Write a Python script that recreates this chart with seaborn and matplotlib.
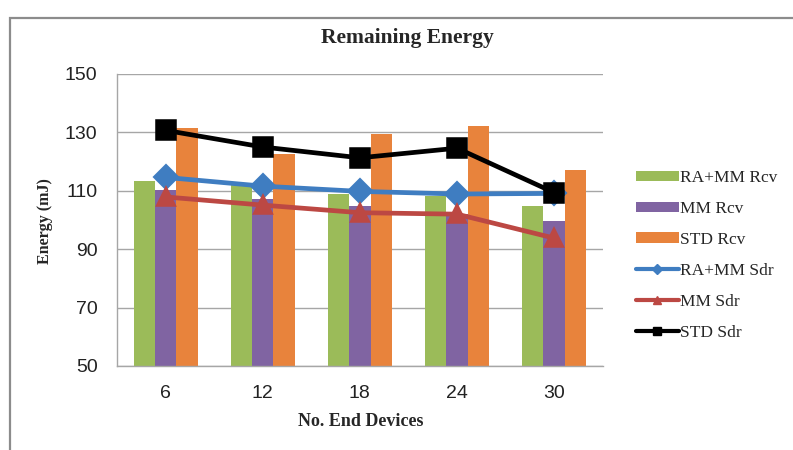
import matplotlib
matplotlib.use("Agg")
import matplotlib.pyplot as plt
from matplotlib.patches import Rectangle, Patch
from matplotlib.lines import Line2D
import numpy as np
import pandas as pd
import seaborn as sns

# Number of end devices (categories)
devices = ["6", "12", "18", "24", "30"]

# Receiver remaining energy (bars), mJ
ra_mm_rcv = [113.4, 112.0, 109.0, 108.1, 104.9]
mm_rcv = [110.2, 107.3, 104.8, 102.0, 99.7]
std_rcv = [131.4, 122.5, 129.4, 132.2, 117.2]

# Sender remaining energy (lines), mJ
ra_mm_sdr = [114.6, 111.6, 109.8, 108.9, 109.1]
mm_sdr = [107.9, 105.1, 102.5, 102.0, 93.8]
std_sdr = [130.7, 125.0, 121.3, 124.6, 109.4]

bar_names = ["RA+MM Rcv", "MM Rcv", "STD Rcv"]
line_names = ["RA+MM Sdr", "MM Sdr", "STD Sdr"]
yticks = [50, 70, 90, 110, 130, 150]

bar_colors = ["#9BBB59", "#8064A2", "#E8833C"]
line_colors = ["#3F7DC1", "#BC4843", "#000000"]
line_markers = ["D", "^", "s"]
line_msizes = [11, 12, 13.5]

sns.set_style("white")
plt.rcParams["font.family"] = ["Liberation Serif", "DejaVu Serif"]

bars = pd.DataFrame({
    "devices": devices * 3,
    "series": [n for n in bar_names for _ in devices],
    "energy": ra_mm_rcv + mm_rcv + std_rcv,
})

fig = plt.figure(figsize=(7.93, 4.50), dpi=100)
ax = fig.add_axes([117 / 793, 1 - 366 / 450, (602.7 - 117) / 793, (366 - 74) / 450])

sns.barplot(data=bars, x="devices", y="energy", hue="series", order=devices,
            hue_order=bar_names, palette=bar_colors, width=0.66, saturation=1,
            linewidth=0, legend=False, ax=ax)

for vals, col, mk, ms in zip([ra_mm_sdr, mm_sdr, std_sdr], line_colors, line_markers, line_msizes):
    sns.pointplot(x=devices, y=vals, order=devices, color=col, markers=mk,
                  errorbar=None, markersize=ms, linewidth=3.4, ax=ax)

ax.set_xlim(-0.5, 4.5)
ax.set_ylim(50, 150)
ax.set_yticks(yticks)
ax.set_axisbelow(True)
ax.yaxis.grid(True, color="#A6A6A6", linewidth=1.0)
ax.xaxis.grid(False)

for side in ["top", "right"]:
    ax.spines[side].set_visible(False)
for side in ["left", "bottom"]:
    ax.spines[side].set_color("#A6A6A6")
    ax.spines[side].set_linewidth(1.0)

tick_font = {"family": ["Liberation Sans", "DejaVu Sans"], "size": 14}
ax.set_xticks(range(len(devices)))
ax.set_xticklabels(devices, fontdict=tick_font, color="#222222")
ax.set_yticklabels([str(v) for v in yticks], fontdict=tick_font, color="#222222")
ax.tick_params(axis="x", which="major", length=0, pad=14)
ax.set_xticks(np.arange(-0.5, 5.0, 1.0), minor=True)
ax.tick_params(axis="x", which="minor", length=6, color="#A6A6A6", direction="out")
ax.tick_params(axis="y", which="major", length=6, color="#A6A6A6", direction="out", pad=8)

ax.set_xlabel("")
ax.set_ylabel("")
fig.text(361 / 793, 1 - 421 / 450, "No. End Devices", ha="center", va="center",
         fontsize=13, fontweight="bold")
fig.text(45 / 793, 1 - 221 / 450, "Energy (mJ)", ha="center", va="center",
         rotation=90, fontsize=11.5, fontweight="bold")
fig.text(407 / 793, 1 - 38 / 450, "Remaining Energy", ha="center", va="center",
         fontsize=15.5, fontweight="bold")

handles = [Patch(facecolor=c, edgecolor="none") for c in bar_colors]
handles += [Line2D([0], [0], color=c, marker=m, markersize=5.5, linewidth=3)
            for c, m in zip(line_colors, line_markers)]
fig.legend(handles, bar_names + line_names, loc="upper left",
           bbox_to_anchor=(636 / 793, 1 - 170 / 450), frameon=False,
           fontsize=12.5, handlelength=2.45, handleheight=0.55, handletextpad=0.1,
           labelspacing=0.86, borderaxespad=0, borderpad=0)

# Outer chart-area border
fig.add_artist(Rectangle((10 / 793, -0.1), 1.2, 1.08 - 9 / 450, transform=fig.transFigure,
                         fill=False, edgecolor="#8C8C8C", linewidth=1.6))

fig.savefig("out.png", dpi=100)
